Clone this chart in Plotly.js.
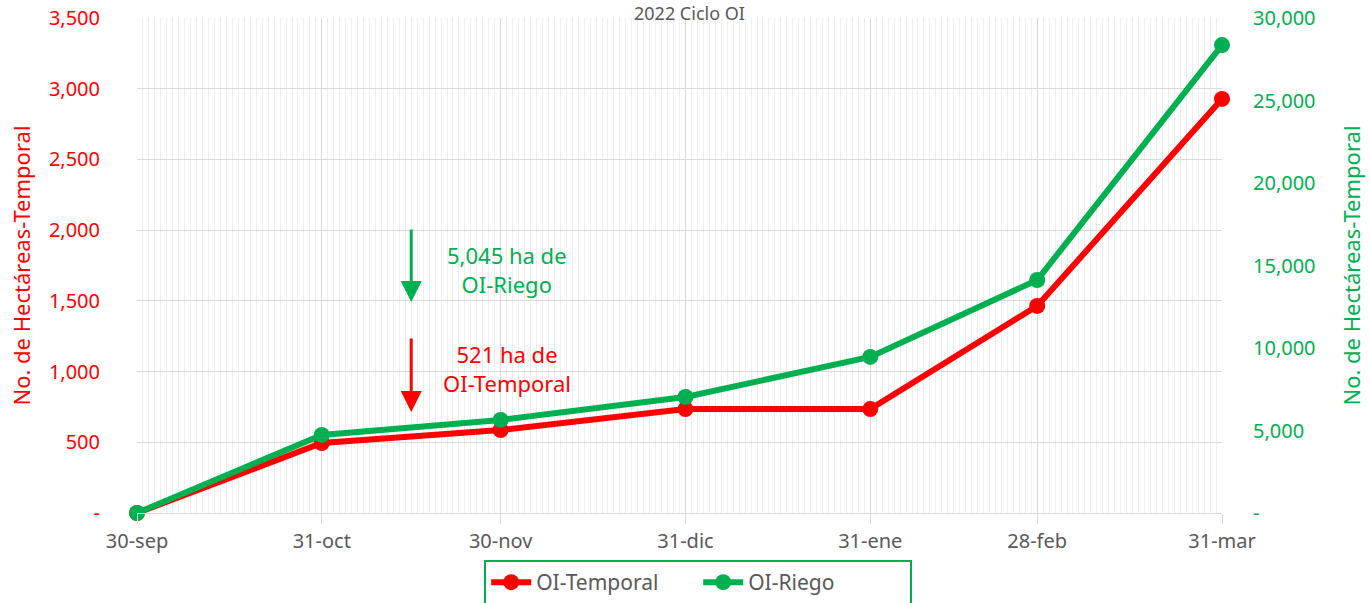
<!DOCTYPE html>
<html>
<head>
<meta charset="utf-8">
<script src="https://cdn.plot.ly/plotly-3.0.1.min.js"></script>
<style>html,body{margin:0;padding:0;background:#fff;}#chart{width:1370px;height:603px;}</style>
</head>
<body>
<div id="chart"></div>
<script>
var dates = ['2021-09-30','2021-10-31','2021-11-30','2021-12-31','2022-01-31','2022-02-28','2022-03-31'];
var dateLabels = ['30-sep','31-oct','30-nov','31-dic','31-ene','28-feb','31-mar'];
var temporal = [0, 495, 587, 735, 735, 1464, 2928];
var riego = [0, 4730, 5640, 7030, 9460, 14120, 28360];
var leftTicks = [0, 500, 1000, 1500, 2000, 2500, 3000, 3500];
var leftTickText = ['-', '500', '1,000', '1,500', '2,000', '2,500', '3,000', '3,500'];
var rightTicks = [0, 5000, 10000, 15000, 20000, 25000, 30000];
var rightTickText = ['-', '5,000', '10,000', '15,000', '20,000', '25,000', '30,000'];

var RED = '#ff0000', GREEN = '#00b050', GRAY = '#595959';
var FONT = 'Noto Sans, sans-serif';

var traces = [
  {x: dates, y: temporal, name: 'OI-Temporal', type: 'scatter', mode: 'lines+markers',
   line: {color: RED, width: 6}, marker: {color: RED, size: 16}, yaxis: 'y', cliponaxis: false},
  {x: dates, y: riego, name: 'OI-Riego', type: 'scatter', mode: 'lines+markers',
   line: {color: GREEN, width: 6}, marker: {color: GREEN, size: 16}, yaxis: 'y2', cliponaxis: false}
];

var layout = {
  width: 1370, height: 603,
  margin: {l: 137, r: 148, t: 18, b: 90, autoexpand: false},
  paper_bgcolor: '#fff', plot_bgcolor: '#fff',
  font: {family: FONT, color: GRAY, size: 20},
  showlegend: true,
  legend: {orientation: 'h', x: 0.32, xanchor: 'left', y: -0.095, yanchor: 'top',
    bordercolor: GREEN, borderwidth: 2, font: {size: 21, color: GRAY},
    entrywidth: 157, itemwidth: 40},
  xaxis: {type: 'date', range: ['2021-09-30', '2022-03-31'],
    tickvals: dates, ticktext: dateLabels, showgrid: true, gridcolor: '#d9d9d9', gridwidth: 1,
    ticks: 'outside', ticklen: 10, tickcolor: '#d9d9d9', tickfont: {size: 20, color: GRAY},
    minor: {dtick: 86400000, showgrid: true, gridcolor: '#eeeeee', gridwidth: 1, ticks: ''},
    zeroline: false, showline: true, linecolor: '#d9d9d9', fixedrange: true},
  yaxis: {range: [0, 3500], tickvals: leftTicks, ticktext: leftTickText,
    tickfont: {size: 20, color: RED}, showgrid: true, gridcolor: '#d9d9d9', zeroline: false,
    ticklabelstandoff: 36,
    title: {text: 'No. de Hectáreas-Temporal', font: {size: 22, color: RED}, standoff: 12}},
  yaxis2: {range: [0, 30000], tickvals: rightTicks, ticktext: rightTickText, overlaying: 'y', side: 'right',
    tickfont: {size: 20, color: GREEN}, showgrid: false, zeroline: false,
    ticklabelstandoff: 30,
    title: {text: 'No. de Hectáreas-Temporal', font: {size: 22, color: GREEN}, standoff: 30}},
  annotations: [
    {xref: 'paper', yref: 'paper', x: 0.5, xshift: 10, y: 1.0, yshift: 18, xanchor: 'center', yanchor: 'top',
     text: '2022 Ciclo OI', showarrow: false, font: {size: 18, color: GRAY}, borderpad: 0},
    {xref: 'x', yref: 'y', x: '2021-11-15', y: 1492, ax: '2021-11-15', ay: 2015, axref: 'x', ayref: 'y',
     text: '', showarrow: true, arrowhead: 2, arrowsize: 1.4, arrowwidth: 3, arrowcolor: GREEN},
    {xref: 'x', yref: 'y', x: '2021-11-15', y: 714, ax: '2021-11-15', ay: 1245, axref: 'x', ayref: 'y',
     text: '', showarrow: true, arrowhead: 2, arrowsize: 1.4, arrowwidth: 3, arrowcolor: RED},
    {xref: 'x', yref: 'y', x: '2021-12-01', y: 1725, xanchor: 'center', yanchor: 'middle',
     text: '5,045 ha de<br>OI-Riego', showarrow: false, font: {size: 22, color: GREEN}},
    {xref: 'x', yref: 'y', x: '2021-12-01', y: 1020, xanchor: 'center', yanchor: 'middle',
     text: '521 ha de<br>OI-Temporal', showarrow: false, font: {size: 22, color: RED}}
  ]
};

Plotly.newPlot('chart', traces, layout, {displayModeBar: false, staticPlot: true});
</script>
</body>
</html>
